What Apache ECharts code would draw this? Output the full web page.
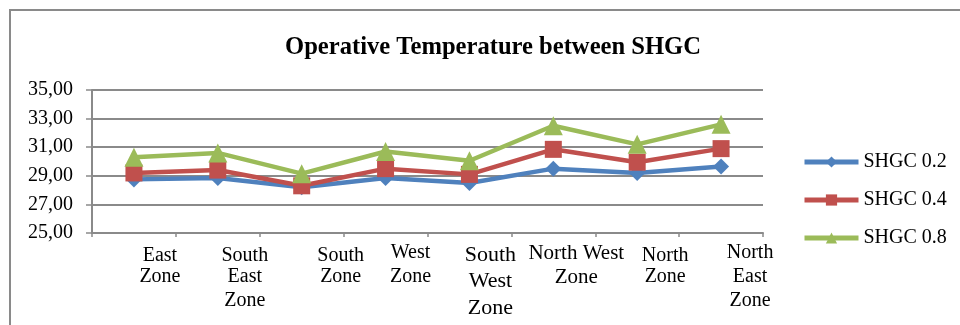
<!DOCTYPE html>
<html>
<head>
<meta charset="utf-8">
<script src="https://cdn.jsdelivr.net/npm/echarts@6/dist/echarts.min.js"></script>
<style>
  html, body { margin: 0; padding: 0; background: #fff; }
  #chart { position: absolute; left: 0; top: 0; width: 960px; height: 325px; }
  #frame { position: absolute; left: 9px; top: 9px; width: 960px; height: 330px;
           border-left: 2px solid #8a8a8a; border-top: 2px solid #8a8a8a; pointer-events: none; }
</style>
</head>
<body>
<div id="chart"></div>
<div id="frame"></div>
<script>
// categories (zones) and label lines
const zones = ['East Zone', 'South East Zone', 'South Zone', 'West Zone',
  'South West Zone', 'North West Zone', 'North Zone', 'North East Zone']
const zoneLabels = ['East\nZone', 'South\nEast\nZone', 'South\nZone', 'West\nZone',
  'South\nWest\nZone', 'North West\nZone', 'North\nZone', 'North\nEast\nZone']

// operative temperature per SHGC value
const shgc02 = [28.75, 28.85, 28.2, 28.85, 28.5, 29.5, 29.2, 29.65]
const shgc04 = [29.2, 29.4, 28.3, 29.5, 29.1, 30.85, 29.95, 30.9]
const shgc08 = [30.3, 30.6, 29.15, 30.7, 30.05, 32.5, 31.2, 32.6]

const yTicks = [25, 27, 29, 31, 33, 35]

// label nudges [dx, dy, fontSize, lineHeight] so text sits like the original
const labelShift = [[26, 6, 20, 24], [27, 5, 20, 24], [39, 6, 20, 24], [25, 0, 20, 24],
  [21, 1, 22, 27], [23, 1, 21, 24], [28, 5, 20, 24], [29, 0, 20, 24]]

const serif = '"Liberation Serif", "Times New Roman", serif'

const rich = {}
labelShift.forEach((s, i) => {
  rich['f' + i] = { fontFamily: serif, fontSize: s[2], color: '#000', lineHeight: s[3],
    padding: [s[1], 0, 0, s[0] * 2] }
  rich['r' + i] = { fontFamily: serif, fontSize: s[2], color: '#000', lineHeight: s[3],
    padding: [0, 0, 0, s[0] * 2] }
})

const chart = echarts.init(document.getElementById('chart'))

function lineSeries(name, data, color, symbol, size) {
  return {
    name: name,
    type: 'line',
    data: data,
    symbol: symbol,
    symbolSize: size,
    lineStyle: { color: color, width: 4.5 },
    itemStyle: { color: color },
    emphasis: { disabled: true },
    z: 3
  }
}

chart.setOption({
  animation: false,
  backgroundColor: '#fff',
  title: {
    text: 'Operative Temperature between SHGC',
    left: 488,
    textAlign: 'center',
    top: 30,
    textStyle: { fontFamily: serif, fontSize: 24.6, fontWeight: 'bold', color: '#000' }
  },
  legend: {
    orient: 'vertical',
    left: 802,
    top: 152,
    padding: 0,
    itemWidth: 54,
    itemHeight: 14,
    itemGap: 18,
    lineStyle: { width: 5 },
    textStyle: { fontFamily: serif, fontSize: 20, color: '#000' },
    data: ['SHGC 0.2', 'SHGC 0.4', 'SHGC 0.8']
  },
  grid: { left: 92, right: 197, top: 90, bottom: 92 },
  xAxis: {
    type: 'category',
    data: zones,
    boundaryGap: true,
    axisLine: { lineStyle: { color: '#8a8a8a', width: 2 } },
    axisTick: { show: true, length: 4, interval: 0, lineStyle: { color: '#8a8a8a', width: 1.5 } },
    axisLabel: {
      interval: 0,
      margin: 8,
      formatter: function (v, i) {
        return zoneLabels[i].split('\n').map((t, k) => '{' + (k === 0 ? 'f' : 'r') + i + '|' + t + '}').join('\n')
      },
      rich: rich
    }
  },
  yAxis: {
    type: 'value',
    min: yTicks[0],
    max: yTicks[yTicks.length - 1],
    interval: 2,
    axisLine: { show: true, lineStyle: { color: '#8a8a8a', width: 2 } },
    axisTick: { show: true, length: 6, lineStyle: { color: '#8a8a8a', width: 1.5 } },
    splitLine: { lineStyle: { color: '#8a8a8a', width: 2 } },
    axisLabel: {
      margin: 19,
      fontFamily: serif,
      fontSize: 20,
      color: '#000',
      formatter: v => v.toFixed(2).replace('.', ',')
    }
  },
  series: [
    lineSeries('SHGC 0.2', shgc02, '#4f81bd', 'diamond', 16),
    lineSeries('SHGC 0.4', shgc04, '#c0504d', 'rect', 17),
    lineSeries('SHGC 0.8', shgc08, '#9bbb59', 'triangle', 19)
  ]
})
</script>
</body>
</html>
